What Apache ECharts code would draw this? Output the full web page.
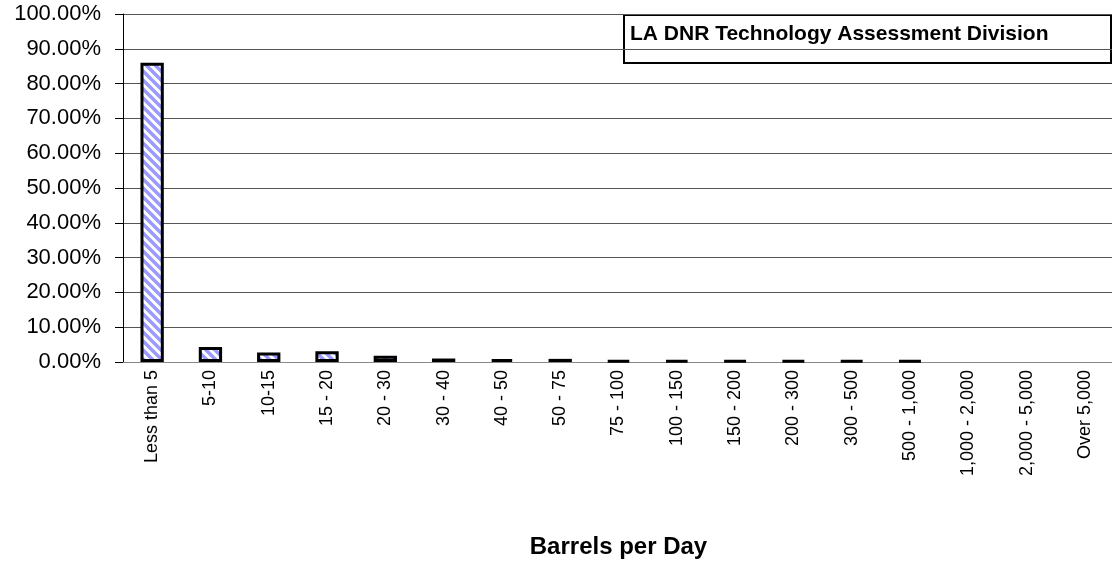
<!DOCTYPE html>
<html>
<head>
<meta charset="utf-8">
<script src="https://cdn.jsdelivr.net/npm/echarts@6/dist/echarts.min.js"></script>
<style>
  html, body { margin: 0; padding: 0; background: #fff; }
  #main { width: 1112px; height: 565px; }
</style>
</head>
<body>
<div id="main"></div>
<script>
var categories = ['Less than 5', '5-10', '10-15', '15 - 20', '20 - 30', '30 - 40', '40 - 50', '50 - 75',
    '75 - 100', '100 - 150', '150 - 200', '200 - 300', '300 - 500', '500 - 1,000',
    '1,000 - 2,000', '2,000 - 5,000', 'Over 5,000'];
// percent of wells
var shares = [86.0, 4.3, 2.7, 3.1, 1.8, 1.0, 0.8, 0.9, 0.5, 0.5, 0.4, 0.4, 0.4, 0.4, '-', '-', '-'];

var fontName = 'Liberation Sans, Arial, sans-serif';

// hatch fill, diagonal stripes
var hatch = document.createElement('canvas');
hatch.width = 9;
hatch.height = 9;
var ctx = hatch.getContext('2d');
ctx.fillStyle = '#fff';
ctx.fillRect(0, 0, 9, 9);
ctx.strokeStyle = '#9a9aff';
ctx.lineWidth = 3.5;
ctx.beginPath();
ctx.moveTo(-3, -3); ctx.lineTo(12, 12);
ctx.moveTo(-3, 6); ctx.lineTo(3, 12);
ctx.moveTo(6, -3); ctx.lineTo(12, 3);
ctx.stroke();

var chart = echarts.init(document.getElementById('main'));
var option = {
    backgroundColor: '#fff',
    animation: false,
    grid: { left: 123, top: 14, width: 991, bottom: 203, containLabel: false, outerBoundsMode: 'none' },
    xAxis: {
        type: 'category',
        data: categories,
        name: 'Barrels per Day',
        nameLocation: 'middle',
        nameGap: 173,
        nameTextStyle: { fontFamily: fontName, fontSize: 24, fontWeight: 'bold', color: '#000' },
        axisLine: { lineStyle: { color: '#888', width: 1 } },
        axisTick: { alignWithLabel: false, length: 6, lineStyle: { color: '#000' } },
        axisLabel: { rotate: 90, margin: 8, interval: 0, fontFamily: fontName, fontSize: 18, color: '#000' }
    },
    yAxis: {
        type: 'value',
        min: 0,
        max: 100,
        interval: 10,
        axisLine: { show: true, lineStyle: { color: '#000', width: 1 } },
        axisTick: { show: true, length: 8, lineStyle: { color: '#000' } },
        splitLine: { lineStyle: { color: '#555', width: 1 } },
        axisLabel: {
            margin: 22,
            fontFamily: fontName,
            fontSize: 22,
            color: '#000',
            formatter: function (v) { return v.toFixed(2) + '%'; }
        }
    },
    series: [{
        type: 'bar',
        data: shares,
        barWidth: '40%',
        itemStyle: {
            color: { image: hatch, repeat: 'repeat' },
            borderColor: '#000',
            borderWidth: 3
        }
    }],
    graphic: [{
        type: 'group',
        left: 623,
        top: 14,
        children: [{
            type: 'rect',
            shape: { x: 0, y: 0, width: 487, height: 48 },
            style: { fill: '#fff', stroke: '#000', lineWidth: 2 }
        }, {
            type: 'text',
            x: 6,
            y: 19,
            style: {
                text: 'LA DNR Technology Assessment Division',
                fontFamily: fontName,
                fontSize: 21,
                fontWeight: 'bold',
                fill: '#000',
                verticalAlign: 'middle'
            }
        }]
    }]
};
chart.setOption(option);
</script>
</body>
</html>
